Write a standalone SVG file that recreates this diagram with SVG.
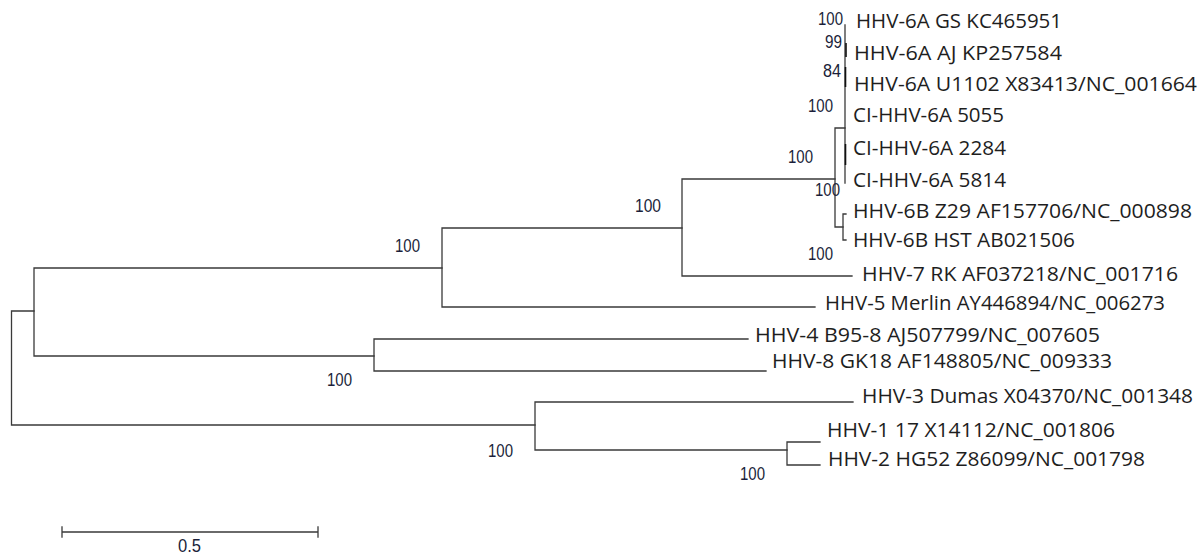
<svg xmlns="http://www.w3.org/2000/svg" width="1204" height="555" viewBox="0 0 1204 555">
<style>
.br{stroke:#3a3a3a;stroke-width:1.3;fill:none;stroke-linecap:square}
.bk{stroke:#111;stroke-width:1.6;fill:none}
.lf{font-family:"Open Sans","Noto Sans",sans-serif;font-size:20.5px;fill:#1e1e1e}
.bs{font-family:"Liberation Sans",Arial,sans-serif;font-size:18px;fill:#1b1f3a}
</style>
<rect width="1204" height="555" fill="#fff"/>
<g id="connectors">
<path class="br" d="M11.5,311 V425 M11.5,311 H34 M11.5,425 H535"/>
<path class="br" d="M34,268 V356 M34,268 H442 M34,356 H374"/>
<path class="br" d="M442,228 V307 M442,228 H682 M442,307 H815"/>
<path class="br" d="M682,179 V276 M682,179 H835 M682,276 H852"/>
<path class="br" d="M835,128 V227 M835,128 H845 M835,227 H843"/>
<path class="br" d="M845,25 V183"/>
<path class="bk" d="M846,43 V57 M845.5,67 V87 M845.5,144 V165"/>
<path class="br" d="M843,214 V240 M843,214 H846 M843,240 H846"/>
<path class="br" d="M374,339 V371 M374,339 H748 M374,371 H766"/>
<path class="br" d="M535,402 V450 M535,402 H853 M535,450 H787"/>
<path class="br" d="M787,442 V465 M787,442 H820 M787,465 H820"/>
</g>
<g id="leaf-hhv6a-gs"><text class="lf" x="856" y="28" textLength="206" lengthAdjust="spacingAndGlyphs">HHV-6A GS KC465951</text></g>
<g id="leaf-hhv6a-aj"><text class="lf" x="854" y="60" textLength="208" lengthAdjust="spacingAndGlyphs">HHV-6A AJ KP257584</text></g>
<g id="leaf-hhv6a-u1102"><text class="lf" x="854" y="91" textLength="343" lengthAdjust="spacingAndGlyphs">HHV-6A U1102 X83413/NC_001664</text></g>
<g id="leaf-ci-5055"><text class="lf" x="853" y="122" textLength="151" lengthAdjust="spacingAndGlyphs">CI-HHV-6A 5055</text></g>
<g id="leaf-ci-2284"><text class="lf" x="853" y="155" textLength="153" lengthAdjust="spacingAndGlyphs">CI-HHV-6A 2284</text></g>
<g id="leaf-ci-5814"><text class="lf" x="853" y="187" textLength="153" lengthAdjust="spacingAndGlyphs">CI-HHV-6A 5814</text></g>
<g id="leaf-hhv6b-z29"><text class="lf" x="853" y="218" textLength="339" lengthAdjust="spacingAndGlyphs">HHV-6B Z29 AF157706/NC_000898</text></g>
<g id="leaf-hhv6b-hst"><text class="lf" x="853" y="247" textLength="222" lengthAdjust="spacingAndGlyphs">HHV-6B HST AB021506</text></g>
<g id="leaf-hhv7"><text class="lf" x="862" y="281" textLength="316" lengthAdjust="spacingAndGlyphs">HHV-7 RK AF037218/NC_001716</text></g>
<g id="leaf-hhv5"><text class="lf" x="825" y="310" textLength="340" lengthAdjust="spacingAndGlyphs">HHV-5 Merlin AY446894/NC_006273</text></g>
<g id="leaf-hhv4"><text class="lf" x="755" y="342" textLength="345" lengthAdjust="spacingAndGlyphs">HHV-4 B95-8 AJ507799/NC_007605</text></g>
<g id="leaf-hhv8"><text class="lf" x="772" y="368" textLength="340" lengthAdjust="spacingAndGlyphs">HHV-8 GK18 AF148805/NC_009333</text></g>
<g id="leaf-hhv3"><text class="lf" x="862" y="403" textLength="331" lengthAdjust="spacingAndGlyphs">HHV-3 Dumas X04370/NC_001348</text></g>
<g id="leaf-hhv1"><text class="lf" x="827" y="437" textLength="288" lengthAdjust="spacingAndGlyphs">HHV-1 17 X14112/NC_001806</text></g>
<g id="leaf-hhv2"><text class="lf" x="828" y="466" textLength="317" lengthAdjust="spacingAndGlyphs">HHV-2 HG52 Z86099/NC_001798</text></g>
<g id="bootstrap">
<text class="bs" x="818" y="25" textLength="25" lengthAdjust="spacingAndGlyphs">100</text>
<text class="bs" x="825" y="48" textLength="17" lengthAdjust="spacingAndGlyphs">99</text>
<text class="bs" x="823" y="77" textLength="18" lengthAdjust="spacingAndGlyphs">84</text>
<text class="bs" x="808" y="112" textLength="25" lengthAdjust="spacingAndGlyphs">100</text>
<text class="bs" x="788" y="163" textLength="25" lengthAdjust="spacingAndGlyphs">100</text>
<text class="bs" x="815" y="196" textLength="25" lengthAdjust="spacingAndGlyphs">100</text>
<text class="bs" x="808" y="260" textLength="25" lengthAdjust="spacingAndGlyphs">100</text>
<text class="bs" x="635" y="212" textLength="26" lengthAdjust="spacingAndGlyphs">100</text>
<text class="bs" x="395" y="252" textLength="25" lengthAdjust="spacingAndGlyphs">100</text>
<text class="bs" x="327" y="386" textLength="25" lengthAdjust="spacingAndGlyphs">100</text>
<text class="bs" x="488" y="457" textLength="25" lengthAdjust="spacingAndGlyphs">100</text>
<text class="bs" x="740" y="480" textLength="25" lengthAdjust="spacingAndGlyphs">100</text>
</g>
<g id="scale-bar">
<path class="br" d="M62,532 H318 M62,527 V537 M318,527 V537"/>
<text class="bs" x="178" y="552" textLength="23" lengthAdjust="spacingAndGlyphs">0.5</text>
</g>
</svg>
